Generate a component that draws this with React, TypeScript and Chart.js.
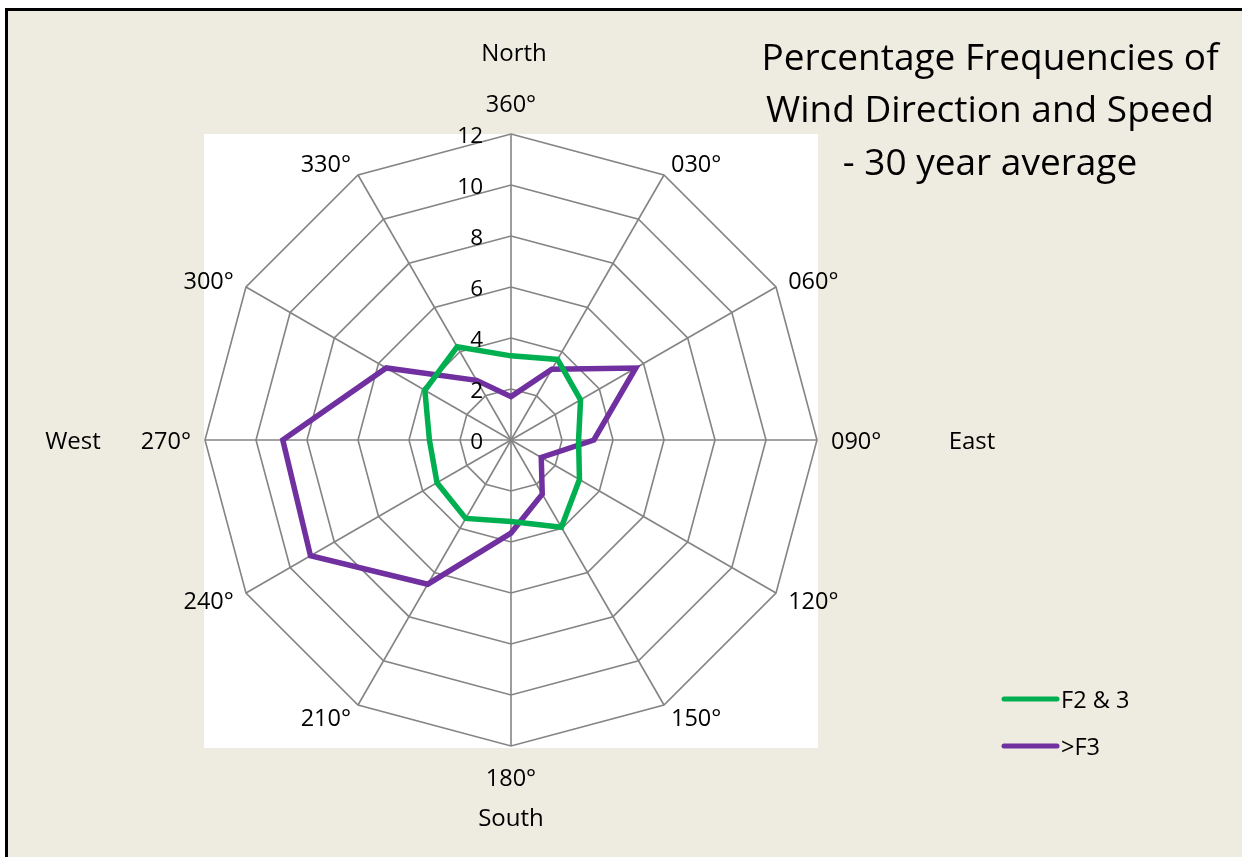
import React, { useEffect, useRef } from "react";
import { Chart, registerables } from "chart.js";

Chart.register(...registerables);

// ---- data ----
const directionLabels = ["360°", "030°", "060°", "090°", "120°", "150°", "180°", "210°", "240°", "270°", "300°", "330°"];
const f2and3Values = [3.3, 3.65, 3.15, 2.65, 3.1, 3.95, 3.2, 3.55, 3.35, 3.2, 3.9, 4.22];
const gtF3Values = [1.7, 3.2, 5.65, 3.25, 1.37, 2.45, 3.65, 6.53, 9.08, 8.95, 5.65, 2.7];
const tickValues = [0, 2, 4, 6, 8, 10, 12];
const seriesNames = ["F2 & 3", ">F3"];
const seriesColors = ["#00B050", "#7030A0"];
const compassNames = ["North", "East", "South", "West"];
const titleLines = ["Percentage Frequencies of", "Wind Direction and Speed", "- 30 year average"];

const W = 1242;
const H = 857;
const BG = "#EEEBE0";
const FONT = "'Open Sans', 'Noto Sans', sans-serif";

const decorPlugin = {
  id: "decor",
  beforeDraw(chart: any) {
    const ctx = chart.ctx;
    const { width, height } = chart;
    ctx.save();
    ctx.fillStyle = "#ffffff";
    ctx.fillRect(0, 0, width, height);
    ctx.fillStyle = "#000000";
    ctx.fillRect(5, 8, 3, height - 8);
    ctx.fillRect(5, 8, width - 5, 3);
    ctx.fillStyle = BG;
    ctx.fillRect(8, 11, width - 8, height - 11);
    const a = chart.chartArea;
    ctx.fillStyle = "#ffffff";
    ctx.fillRect(a.left, a.top, a.right - a.left, a.bottom - a.top + 2);
    ctx.restore();
  },
  afterDraw(chart: any) {
    const ctx = chart.ctx;
    const scale = chart.scales.r;
    const cx = scale.xCenter;
    const cy = scale.yCenter;
    const R = scale.drawingArea;
    ctx.save();
    ctx.fillStyle = "#000000";

    // tick labels
    ctx.font = `22.5px ${FONT}`;
    ctx.textAlign = "right";
    ctx.textBaseline = "middle";
    tickValues.forEach((v) => {
      const y = cy - scale.getDistanceFromCenterForValue(v);
      ctx.fillText(String(v), cx - 28, y + 3);
    });

    // point labels
    ctx.font = `23.5px ${FONT}`;
    directionLabels.forEach((lab, i) => {
      const ang = (i * 2 * Math.PI) / directionLabels.length;
      const s = Math.sin(ang);
      let x: number, y: number;
      if (Math.abs(s) < 0.05) {
        const p = scale.getPointPosition(i, R + 31);
        x = p.x;
        y = p.y;
        ctx.textAlign = "center";
      } else {
        const p = scale.getPointPosition(i, R + 14);
        x = p.x;
        y = p.y;
        ctx.textAlign = s > 0 ? "left" : "right";
      }
      ctx.textBaseline = "middle";
      ctx.fillText(lab, x, y + 2);
    });

    // compass names
    ctx.font = `24px ${FONT}`;
    ctx.textAlign = "center";
    ctx.textBaseline = "middle";
    ctx.fillText(compassNames[0], cx + 3, cy - R - 80);
    ctx.fillText(compassNames[1], cx + R + 155, cy + 2);
    ctx.fillText(compassNames[2], cx, cy + R + 73);
    ctx.fillText(compassNames[3], cx - R - 132, cy + 2);

    // title
    ctx.font = `37px ${FONT}`;
    ctx.textAlign = "center";
    titleLines.forEach((t, i) => {
      ctx.fillText(t, 990, 59 + i * 52.5);
    });

    // legend
    ctx.font = `23.5px ${FONT}`;
    ctx.textAlign = "left";
    seriesNames.forEach((name, i) => {
      const y = 699 + i * 47;
      ctx.strokeStyle = seriesColors[i];
      ctx.lineWidth = 5;
      ctx.lineCap = "round";
      ctx.beginPath();
      ctx.moveTo(1004, y);
      ctx.lineTo(1057, y);
      ctx.stroke();
      ctx.fillText(name, 1061, y + 2);
    });
    ctx.restore();
  },
};

export default function App() {
  const ref = useRef<HTMLCanvasElement | null>(null);
  useEffect(() => {
    if (!ref.current) return;
    const chart = new Chart(ref.current, {
      type: "radar",
      data: {
        labels: directionLabels,
        datasets: [
          {
            label: seriesNames[0],
            data: f2and3Values,
            borderColor: seriesColors[0],
            backgroundColor: seriesColors[0],
            borderWidth: 5.5,
            fill: false,
            pointRadius: 0,
            pointHoverRadius: 0,
            tension: 0,
          },
          {
            label: seriesNames[1],
            data: gtF3Values,
            borderColor: seriesColors[1],
            backgroundColor: seriesColors[1],
            borderWidth: 5.5,
            fill: false,
            pointRadius: 0,
            pointHoverRadius: 0,
            tension: 0,
          },
        ],
      },
      options: {
        responsive: false,
        animation: false,
        devicePixelRatio: 1,
        layout: { padding: { left: 204, top: 134, right: W - 818, bottom: H - 746 } },
        plugins: {
          legend: { display: false },
          title: { display: false },
          tooltip: { enabled: false },
        },
        scales: {
          r: {
            min: 0,
            max: 12,
            beginAtZero: true,
            ticks: { stepSize: 2, display: false, showLabelBackdrop: false },
            pointLabels: { display: false },
            grid: { color: "#848484", lineWidth: 1.6, circular: false },
            angleLines: { color: "#848484", lineWidth: 1.6 },
          },
        },
      },
      plugins: [decorPlugin],
    });
    return () => chart.destroy();
  }, []);
  return (
    <div style={{ position: "fixed", left: 0, top: 0, width: W, height: H }}>
      <canvas ref={ref} width={W} height={H} style={{ display: "block" }} />
    </div>
  );
}
